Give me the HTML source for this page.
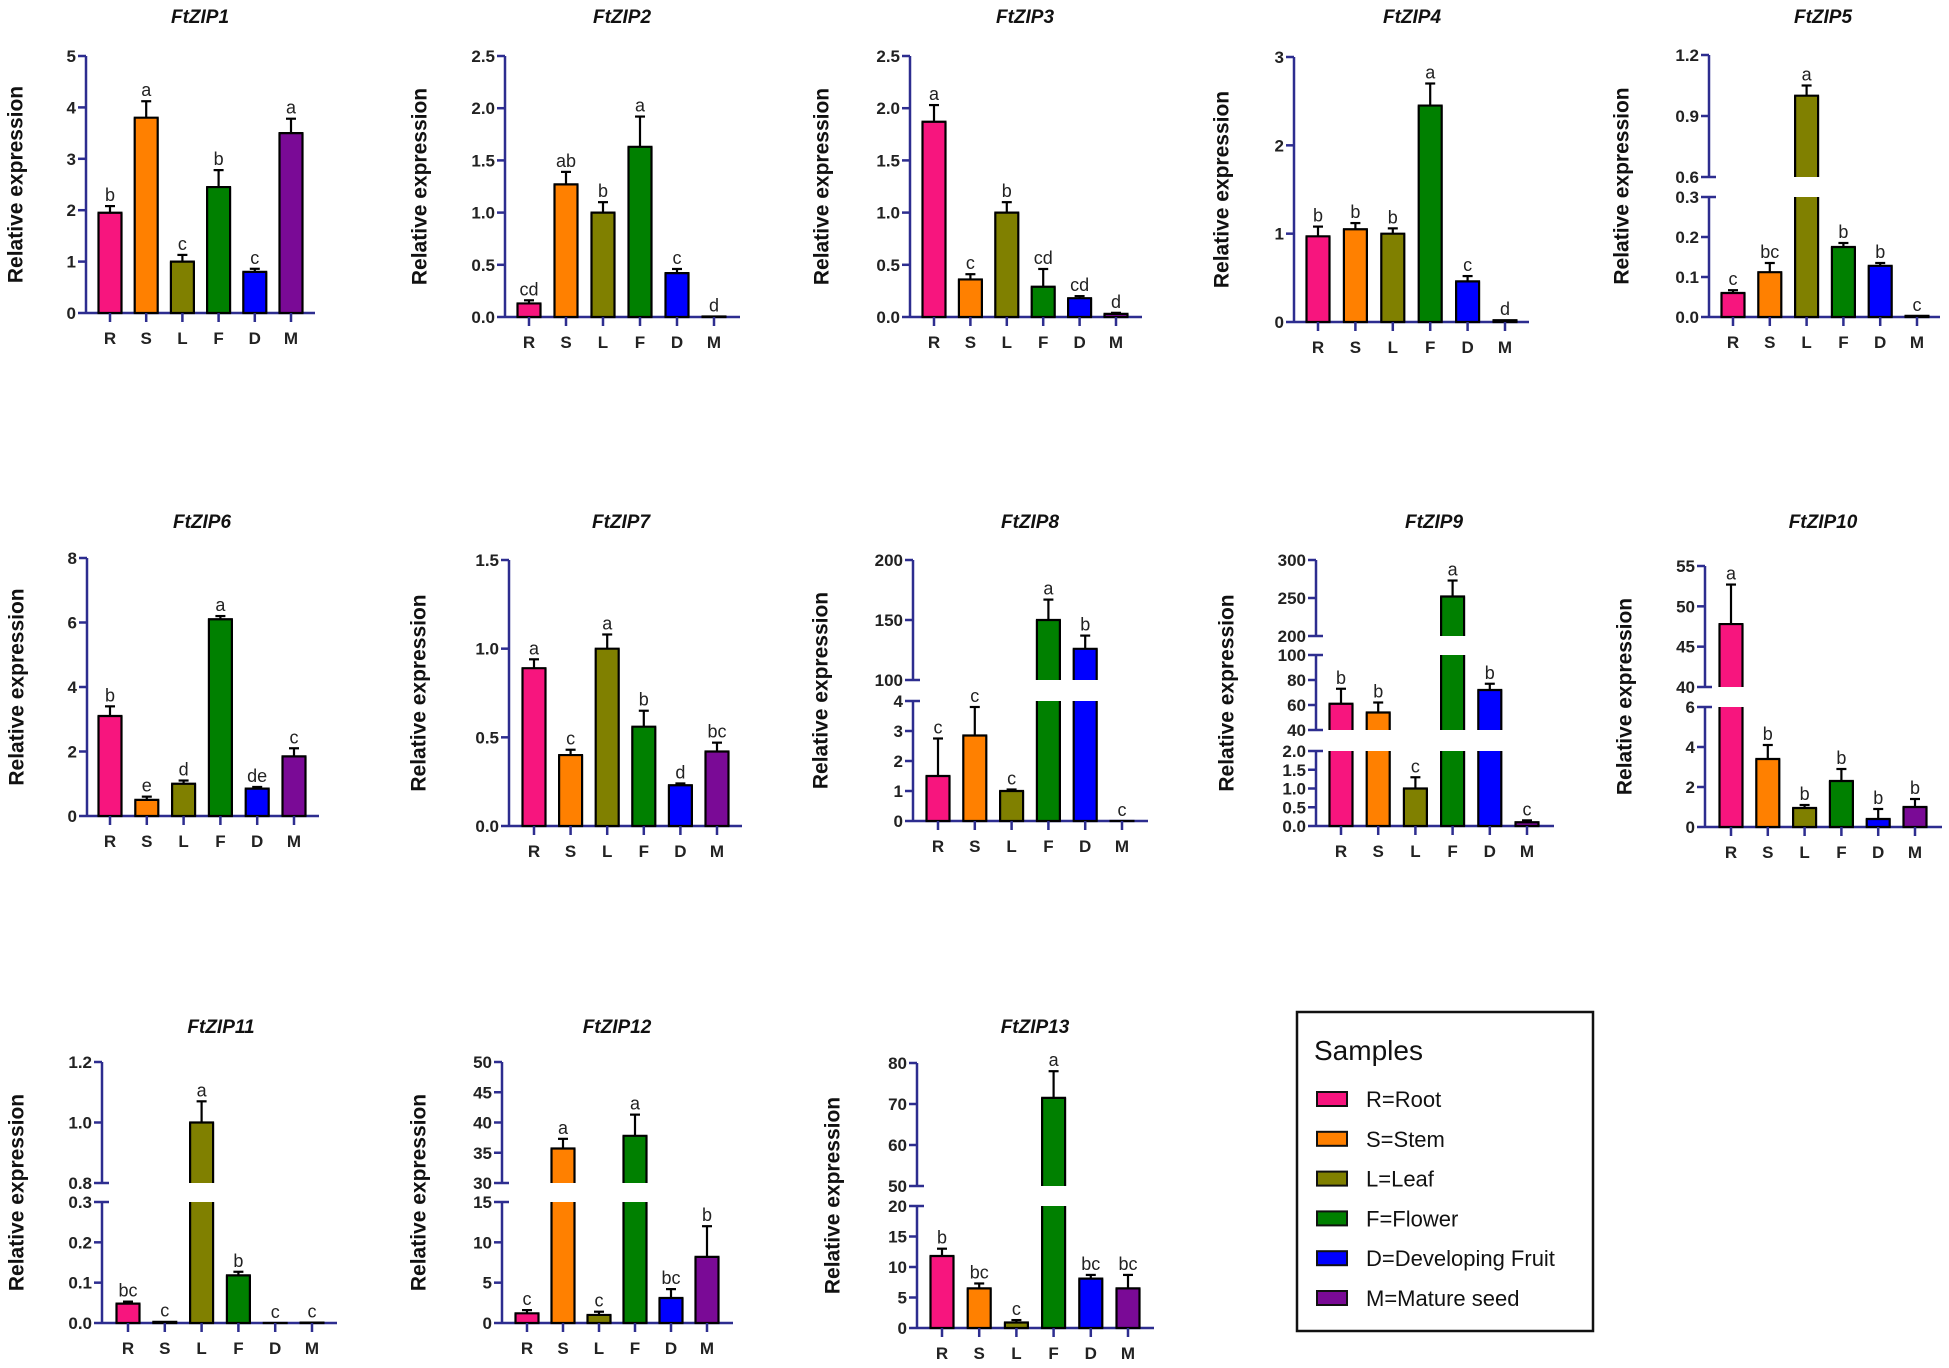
<!DOCTYPE html>
<html><head><meta charset="utf-8"><style>
html,body{margin:0;padding:0;background:#fff;}
svg{display:block;font-family:"Liberation Sans",Arial,sans-serif;}
</style></head><body>
<svg id="fig" width="1949" height="1368" viewBox="0 0 1949 1368" xmlns="http://www.w3.org/2000/svg">
<g id="panels"></g>
<g id="legend">
<rect x="1297" y="1012" width="296" height="319" fill="#fff" stroke="#111" stroke-width="2.5"/>
<text x="1314" y="1060" font-size="28" fill="#111">Samples</text>
</g>
</svg>
<script>
// ---- data ----
const categories = ["R","S","L","F","D","M"];
const legendLabels = ["R=Root","S=Stem","L=Leaf","F=Flower","D=Developing Fruit","M=Mature seed"];
const zip1Values = [1.95,3.8,1.0,2.45,0.8,3.5];
const zip1Errors = [2.08,4.12,1.13,2.78,0.86,3.78];
const zip1Letters = ["b","a","c","b","c","a"];
const zip2Values = [0.13,1.27,1.0,1.63,0.42,0.005];
const zip2Errors = [0.16,1.39,1.1,1.92,0.46,0.005];
const zip2Letters = ["cd","ab","b","a","c","d"];
const zip3Values = [1.87,0.36,1.0,0.29,0.18,0.03];
const zip3Errors = [2.03,0.41,1.1,0.46,0.2,0.04];
const zip3Letters = ["a","c","b","cd","cd","d"];
const zip4Values = [0.97,1.05,1.0,2.45,0.46,0.02];
const zip4Errors = [1.08,1.12,1.06,2.7,0.52,0.02];
const zip4Letters = ["b","b","b","a","c","d"];
const zip5Values = [0.06,0.112,1.0,0.175,0.128,0.003];
const zip5Errors = [0.067,0.135,1.05,0.185,0.135,0.003];
const zip5Letters = ["c","bc","a","b","b","c"];
const zip6Values = [3.1,0.5,1.0,6.1,0.85,1.85];
const zip6Errors = [3.4,0.6,1.1,6.2,0.9,2.1];
const zip6Letters = ["b","e","d","a","de","c"];
const zip7Values = [0.89,0.40,1.0,0.56,0.23,0.42];
const zip7Errors = [0.94,0.43,1.08,0.65,0.24,0.47];
const zip7Letters = ["a","c","a","b","d","bc"];
const zip8Values = [1.5,2.85,1.0,150,126,0];
const zip8Errors = [2.75,3.8,1.05,167,137,0];
const zip8Letters = ["c","c","c","a","b","c"];
const zip9Values = [61,54,1.0,252,72,0.1];
const zip9Errors = [73,62,1.3,273,77,0.15];
const zip9Letters = ["b","b","c","a","b","c"];
const zip10Values = [47.8,3.4,0.95,2.3,0.4,1.0];
const zip10Errors = [52.7,4.1,1.1,2.9,0.9,1.4];
const zip10Letters = ["a","b","b","b","b","b"];
const zip11Values = [0.048,0.003,1.0,0.118,0,0.001];
const zip11Errors = [0.053,0.004,1.07,0.127,0,0.001];
const zip11Letters = ["bc","c","a","b","c","c"];
const zip12Values = [1.2,35.7,1.0,37.8,3.1,8.2];
const zip12Errors = [1.6,37.3,1.4,41.3,4.2,12.0];
const zip12Letters = ["c","a","c","a","bc","b"];
const zip13Values = [11.8,6.5,0.9,71.5,8.1,6.5];
const zip13Errors = [13,7.3,1.3,78,8.7,8.7];
const zip13Letters = ["b","bc","c","a","bc","bc"];

const colors = ["#f7157e","#ff8000","#808000","#008000","#0000ff","#7a0a96"];
const AX = "#2d2d8f";
const NS = "http://www.w3.org/2000/svg";

// ---- layout (geometry only) ----
const panels = [
 {name:"FtZIP1",v:zip1Values,e:zip1Errors,l:zip1Letters,ax:86,c0:110,st:36.2,end:315,tx:200,ty:23,lx:16,
  segs:[{lo:0,hi:5,y0:313,y1:56,ticks:[0,1,2,3,4,5],d:0}]},
 {name:"FtZIP2",v:zip2Values,e:zip2Errors,l:zip2Letters,ax:505,c0:529,st:37,end:740,tx:622,ty:23,lx:420,
  segs:[{lo:0,hi:2.5,y0:317,y1:56,ticks:[0,0.5,1,1.5,2,2.5],d:1}]},
 {name:"FtZIP3",v:zip3Values,e:zip3Errors,l:zip3Letters,ax:910,c0:934,st:36.4,end:1142,tx:1025,ty:23,lx:822,
  segs:[{lo:0,hi:2.5,y0:317,y1:56,ticks:[0,0.5,1,1.5,2,2.5],d:1}]},
 {name:"FtZIP4",v:zip4Values,e:zip4Errors,l:zip4Letters,ax:1294,c0:1318,st:37.4,end:1529,tx:1412,ty:23,lx:1222,
  segs:[{lo:0,hi:3,y0:322,y1:57,ticks:[0,1,2,3],d:0}]},
 {name:"FtZIP5",v:zip5Values,e:zip5Errors,l:zip5Letters,ax:1709,c0:1733,st:36.8,end:1940,tx:1823,ty:23,lx:1622,
  segs:[{lo:0,hi:0.3,y0:317,y1:197,ticks:[0,0.1,0.2,0.3],d:1},{lo:0.6,hi:1.2,y0:177,y1:55,ticks:[0.6,0.9,1.2],d:1}]},
 {name:"FtZIP6",v:zip6Values,e:zip6Errors,l:zip6Letters,ax:87,c0:110,st:36.8,end:319,tx:202,ty:528,lx:17,
  segs:[{lo:0,hi:8,y0:816,y1:558,ticks:[0,2,4,6,8],d:0}]},
 {name:"FtZIP7",v:zip7Values,e:zip7Errors,l:zip7Letters,ax:509,c0:534,st:36.6,end:742,tx:621,ty:528,lx:419,
  segs:[{lo:0,hi:1.5,y0:826,y1:560,ticks:[0,0.5,1,1.5],d:1}]},
 {name:"FtZIP8",v:zip8Values,e:zip8Errors,l:zip8Letters,ax:913,c0:938,st:36.8,end:1148,tx:1030,ty:528,lx:821,
  segs:[{lo:0,hi:4,y0:821,y1:701,ticks:[0,1,2,3,4],d:0},{lo:100,hi:200,y0:680,y1:560,ticks:[100,150,200],d:0}]},
 {name:"FtZIP9",v:zip9Values,e:zip9Errors,l:zip9Letters,ax:1316,c0:1341,st:37.2,end:1554,tx:1434,ty:528,lx:1227,
  segs:[{lo:0,hi:2,y0:826,y1:751,ticks:[0,0.5,1,1.5,2],d:1},{lo:40,hi:100,y0:730,y1:655,ticks:[40,60,80,100],d:0},{lo:200,hi:300,y0:636,y1:560,ticks:[200,250,300],d:0}]},
 {name:"FtZIP10",v:zip10Values,e:zip10Errors,l:zip10Letters,ax:1705,c0:1731,st:36.8,end:1942,tx:1823,ty:528,lx:1625,
  segs:[{lo:0,hi:6,y0:827,y1:707,ticks:[0,2,4,6],d:0},{lo:40,hi:55,y0:687,y1:566,ticks:[40,45,50,55],d:0}]},
 {name:"FtZIP11",v:zip11Values,e:zip11Errors,l:zip11Letters,ax:102,c0:128,st:36.8,end:337,tx:221,ty:1033,lx:17,
  segs:[{lo:0,hi:0.3,y0:1323,y1:1202,ticks:[0,0.1,0.2,0.3],d:1},{lo:0.8,hi:1.2,y0:1183,y1:1062,ticks:[0.8,1.0,1.2],d:1}]},
 {name:"FtZIP12",v:zip12Values,e:zip12Errors,l:zip12Letters,ax:502,c0:527,st:36,end:733,tx:617,ty:1033,lx:419,
  segs:[{lo:0,hi:15,y0:1323,y1:1202,ticks:[0,5,10,15],d:0},{lo:30,hi:50,y0:1183,y1:1062,ticks:[30,35,40,45,50],d:0}]},
 {name:"FtZIP13",v:zip13Values,e:zip13Errors,l:zip13Letters,ax:917,c0:942,st:37.2,end:1154,tx:1035,ty:1033,lx:833,
  segs:[{lo:0,hi:20,y0:1328,y1:1206,ticks:[0,5,10,15,20],d:0},{lo:50,hi:80,y0:1186,y1:1063,ticks:[50,60,70,80],d:0}]}
];

function mk(tag, attrs, parent){
  const el=document.createElementNS(NS,tag);
  for(const k in attrs) el.setAttribute(k,attrs[k]);
  parent.appendChild(el); return el;
}
function segY(s,v){ return s.y0 + (v-s.lo)/(s.hi-s.lo)*(s.y1-s.y0); }
function yOf(p,v){
  for(const s of p.segs){ if(v<=s.hi) return segY(s,Math.max(v,s.lo)); }
  const s=p.segs[p.segs.length-1]; return segY(s,v);
}

const root=document.getElementById('panels');
panels.forEach((p,pi)=>{
  const g=mk('g',{},root);
  
  
  const t=mk('text',{x:p.tx,y:p.ty,'text-anchor':'middle','font-size':19,'font-weight':'bold','font-style':'italic',fill:'#111'},g);
  t.textContent=p.name;
  
  
  const zeroY=p.segs[0].y0, topY=p.segs[p.segs.length-1].y1;
  const ym=(zeroY+topY)/2;
  const yl=mk('text',{x:p.lx,y:ym,'text-anchor':'middle','font-size':21,'font-weight':'bold',fill:'#111',transform:`rotate(-90 ${p.lx} ${ym})`,'dominant-baseline':'central'},g);
  yl.textContent='Relative expression';
  
  
  p.segs.forEach((s,si)=>{
    const ln=mk('line',{x1:p.ax,y1:s.y0+(si===0?1:0),x2:p.ax,y2:s.y1,stroke:AX,'stroke-width':2.5},g);
    
    
    s.ticks.forEach(tv=>{
      const ty=segY(s,tv);
      const isBreak=(si>0&&tv===s.lo)||(si<p.segs.length-1&&tv===s.hi);
      const tk=mk('line',{x1:p.ax-8,y1:ty,x2:isBreak?p.ax+7:p.ax,y2:ty,stroke:AX,'stroke-width':2.5},g);
      
      
      const lb=mk('text',{x:p.ax-10,y:ty+6,'text-anchor':'end','font-size':17,'font-weight':'bold',fill:'#222'},g);
      lb.textContent=tv.toFixed(s.d);
      
      
    });
  });
  const xa=mk('line',{x1:p.ax,y1:zeroY,x2:p.end,y2:zeroY,stroke:AX,'stroke-width':2.5},g);
  
  
  categories.forEach((c,i)=>{
    const cx=p.c0+i*p.st;
    const v=p.v[i], e=p.e[i];
    const L=cx-11.5, R=cx+11.5;
    p.segs.forEach((s,si)=>{
      if(v>s.lo || si===0){
        const endsHere=v<=s.hi;
        const top=segY(s,Math.min(v,s.hi));
        const bot=s.y0;
        const r=mk('rect',{x:L,y:Math.min(top,bot),width:23,height:Math.max(Math.abs(bot-top),0.01),fill:colors[i]},g);
        
        
        let d=`M${L},${bot} L${L},${top} M${R},${bot} L${R},${top}`;
        if(endsHere) d+=` M${L-1},${top} L${R+1},${top}`;
        if(si===0) d+=` M${L-1},${bot} L${R+1},${bot}`;
        const o=mk('path',{d:d,fill:'none',stroke:'#000','stroke-width':2.2},g);
        
        
      }
    });
    const yv=yOf(p,v), ye=yOf(p,e);
    if(ye<yv-1){
      const el=mk('line',{x1:cx,y1:yv,x2:cx,y2:ye,stroke:'#000','stroke-width':2.2},g);
      
      
      const cap=mk('line',{x1:cx-5,y1:ye,x2:cx+5,y2:ye,stroke:'#000','stroke-width':2.2},g);
      
      
    }
    const lt=mk('text',{x:cx,y:Math.min(ye,yv)-5,'text-anchor':'middle','font-size':18,fill:'#222'},g);
    lt.textContent=p.l[i];
    
    
    const xt=mk('line',{x1:cx,y1:zeroY,x2:cx,y2:zeroY+9,stroke:AX,'stroke-width':2.5},g);
    
    
    const xl=mk('text',{x:cx,y:zeroY+31,'text-anchor':'middle','font-size':17,'font-weight':'bold',fill:'#222'},g);
    xl.textContent=c;
    
    
  });
});

const lg=document.getElementById('legend');
legendLabels.forEach((lab,i)=>{
  const cy=1099+i*39.8;
  const sw=mk('rect',{x:1317,y:cy-7,width:30,height:14,fill:colors[i],stroke:'#111','stroke-width':2},lg);
  
  
  const tx=mk('text',{x:1366,y:cy+8,'font-size':22,fill:'#111'},lg);
  tx.textContent=lab;
  
  
});
</script>
</body></html>
